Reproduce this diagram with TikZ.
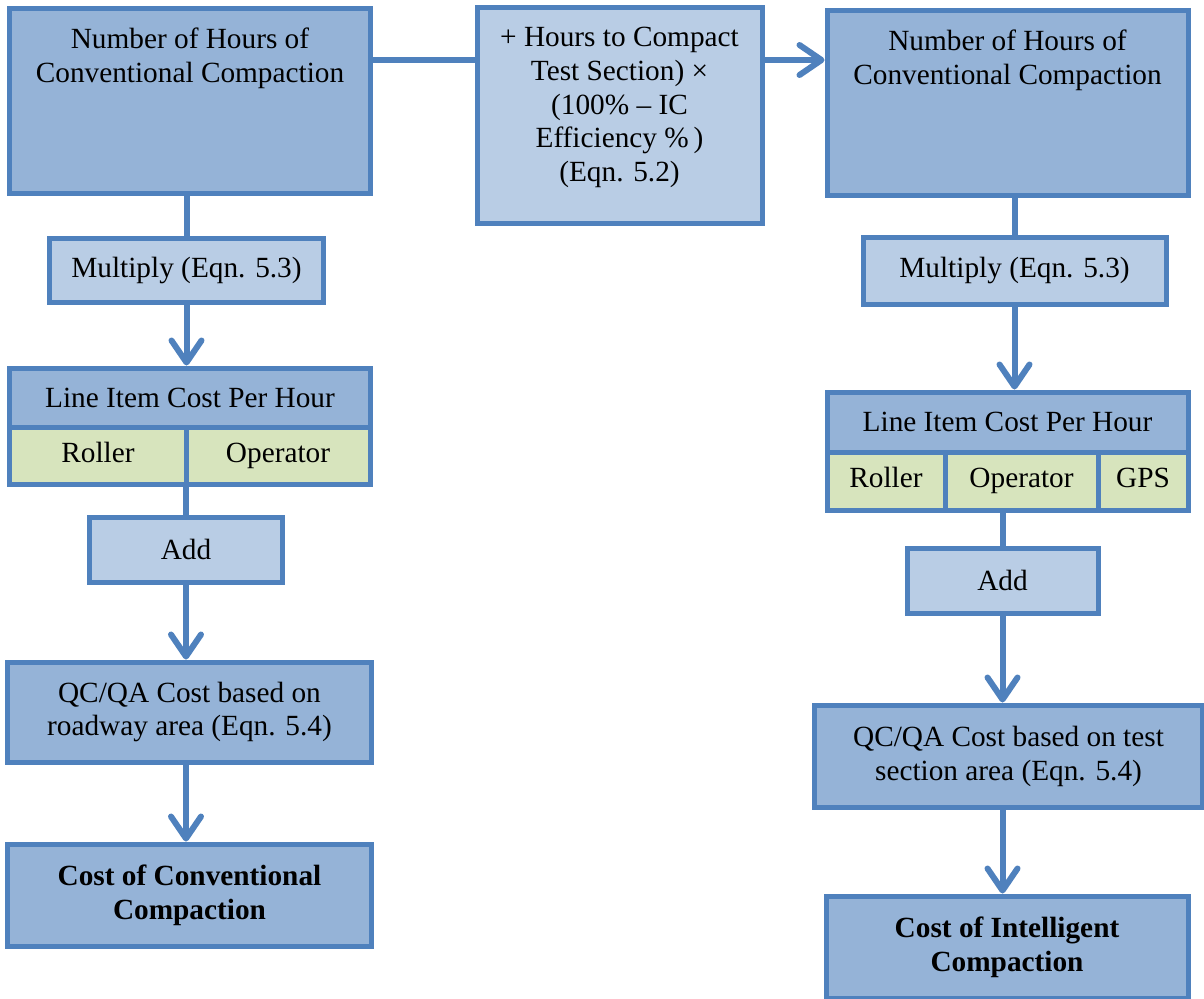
\documentclass[tikz,border=0pt]{standalone}
\usepackage{fontspec}
\setmainfont{Liberation Serif}
\usepackage{tikz}
\usetikzlibrary{positioning,arrows.meta}
\definecolor{edgeblue}{HTML}{4F81BD}
\definecolor{midblue}{HTML}{95B3D7}
\definecolor{paleblue}{HTML}{B9CDE5}
\definecolor{palegreen}{HTML}{D7E4BD}

\begin{document}
\begin{tikzpicture}[x=0.5bp, y=-0.5bp,
    box/.style={draw=edgeblue, line width=2.5bp, font=\fontsize{14.7}{17}\selectfont, align=center, inner sep=0pt},
    darkbox/.style={box, fill=midblue},
    lightbox/.style={box, fill=paleblue},
    cell/.style={box, fill=palegreen, text height=10bp, text depth=3.2bp},
    toptext/.style={anchor=north, yshift=-11bp, inner sep=0pt, align=center, font=\fontsize{14.7}{17}\selectfont},
    link/.style={edgeblue, line width=3bp},
    flow/.style={link, -{Straight Barb[length=11bp, width=15bp, round]}},
]
\useasboundingbox (0,0) rectangle (1204,998);

\node[darkbox, minimum width=180bp, minimum height=92.5bp,
    label={[toptext]north:{Number of Hours of\\Conventional Compaction}}] (hrsL) at (190,100.5) {};
\node[lightbox, minimum width=142.5bp, minimum height=108bp,
    label={[toptext]north:{+ Hours to Compact\\Test Section) ×\\(100\% – IC\\Efficiency \%\,)\\(Eqn. 5.2)}}] (mid) at (619.5,115) {};
\node[darkbox, minimum width=180.5bp, minimum height=92.5bp,
    label={[toptext]north:{Number of Hours of\\Conventional Compaction}}] (hrsR) at (1007.5,102.5) {};

\node[lightbox, minimum width=136.5bp, minimum height=32bp] (multL) at (186.5,270) {Multiply (Eqn. 5.3)};
\node[lightbox, minimum width=151.5bp, minimum height=33.5bp] (multR) at (1014.5,270.5) {Multiply (Eqn. 5.3)};

\node[darkbox, minimum width=180bp, minimum height=29.5bp] (rateL) at (190,397.5) {Line Item Cost Per Hour};
\node[cell, minimum width=88bp, minimum height=28.5bp] (rollL) at (98,455.5) {Roller};
\node[cell, minimum width=92bp, minimum height=28.5bp] (operL) at (278,455.5) {Operator};

\node[darkbox, minimum width=180.5bp, minimum height=30bp] (rateR) at (1007.5,422) {Line Item Cost Per Hour};
\node[cell, minimum width=59bp, minimum height=29bp] (rollR) at (886,481) {Roller};
\node[cell, minimum width=76.5bp, minimum height=29bp] (operR) at (1021.5,481) {Operator};
\node[cell, minimum width=45bp, minimum height=29bp] (gpsR) at (1143,481) {GPS};

\node[lightbox, minimum width=96bp, minimum height=32.5bp] (addL) at (186,549.5) {Add};
\node[lightbox, minimum width=95.5bp, minimum height=32.5bp] (addR) at (1002.5,580.5) {Add};

\node[darkbox, minimum width=181.5bp, minimum height=50bp] (qcL) at (189.5,712) {QC/QA Cost based on\\roadway area (Eqn. 5.4)};
\node[darkbox, minimum width=194bp, minimum height=51bp] (qcR) at (1008.5,756) {QC/QA Cost based on test\\section area (Eqn. 5.4)};

\node[darkbox, minimum width=181.5bp, minimum height=51bp, font=\fontsize{14.7}{17}\selectfont\bfseries] (costL) at (189.5,895) {Cost of Conventional\\Compaction};
\node[darkbox, minimum width=181bp, minimum height=51bp, font=\fontsize{14.7}{17}\selectfont\bfseries] (costR) at (1007,947) {Cost of Intelligent\\Compaction};

\coordinate (row) at (0,60);
\draw[link] (hrsL.east |- row) -- (mid.west |- row);
\draw[flow] (mid.east |- row) -- (hrsR.west |- row);

\draw[link] (multL.north |- hrsL.south) -- (multL.north);
\draw[flow] (multL.south) -- (multL.south |- rateL.north);
\draw[link] (addL.north |- rollL.south) -- (addL.north);
\draw[flow] (addL.south) -- (addL.south |- qcL.north);
\draw[flow] (addL.south |- qcL.south) -- (addL.south |- costL.north);

\draw[link] (multR.north |- hrsR.south) -- (multR.north);
\draw[flow] (multR.south) -- (multR.south |- rateR.north);
\draw[link] (addR.north |- operR.south) -- (addR.north);
\draw[flow] (addR.south) -- (addR.south |- qcR.north);
\draw[flow] (addR.south |- qcR.south) -- (addR.south |- costR.north);
\end{tikzpicture}
\end{document}
